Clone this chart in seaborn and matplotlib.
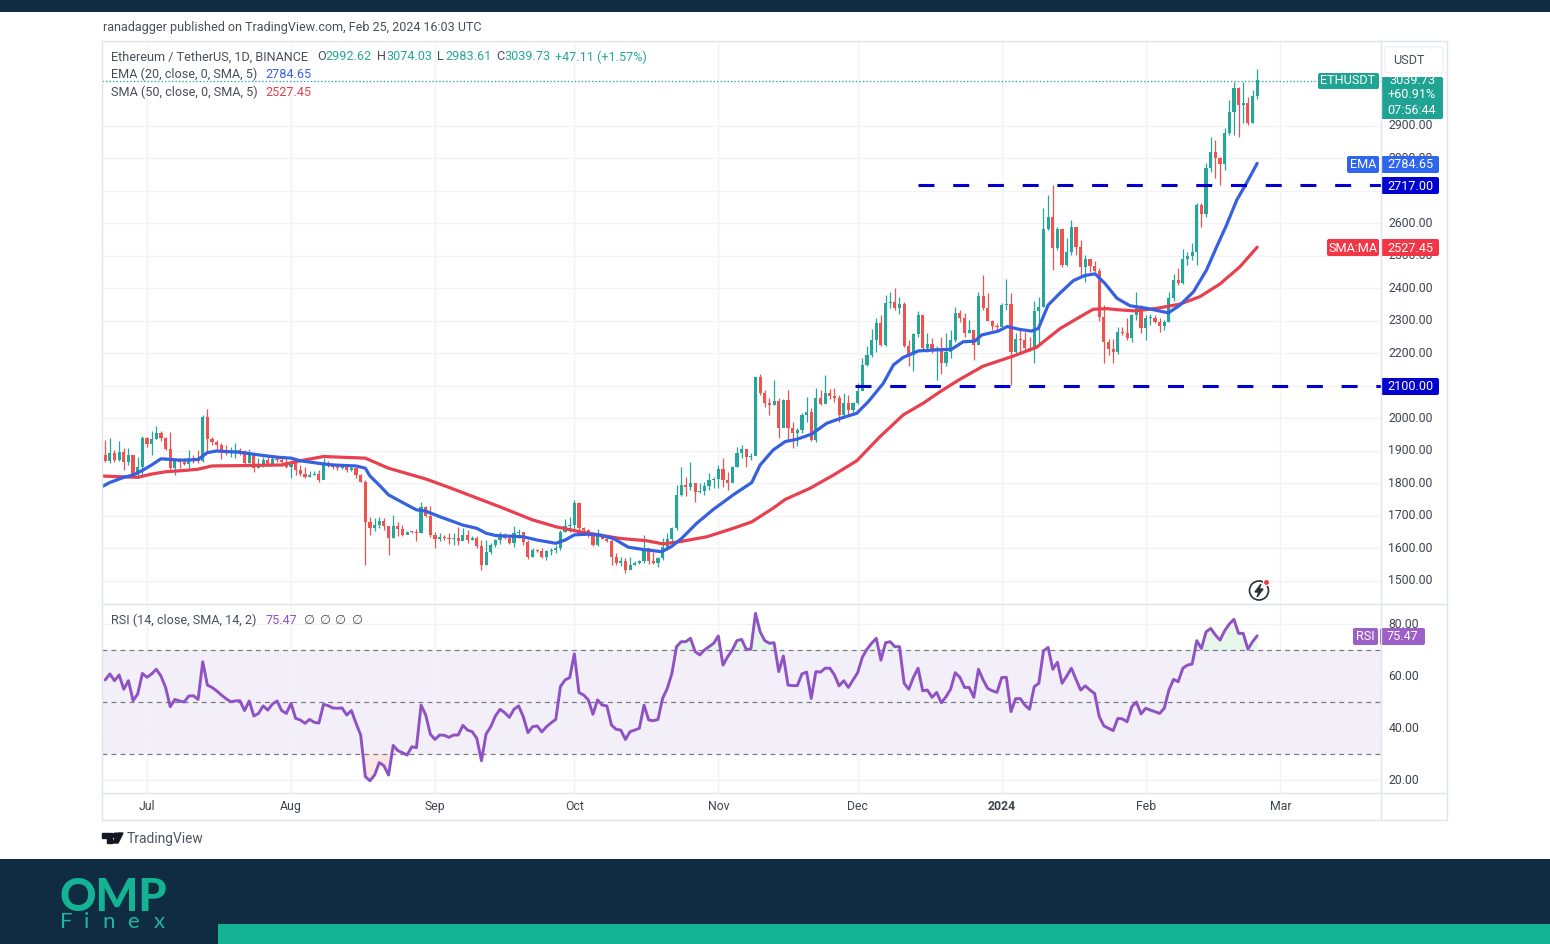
import numpy as np
import pandas as pd
import seaborn as sns
import matplotlib.pyplot as plt
from matplotlib.patches import Rectangle, FancyBboxPatch, Circle, Polygon

# days counted from 1 Jul 2023, first candle is day -9
first_day = -9
first_open = 1888
closes = [
    1869, 1893, 1872, 1898, 1867, 1888, 1826, 1852, 1939, 1922,
    1936, 1954, 1939, 1905, 1847, 1872, 1865, 1860, 1878, 1870,
    1868, 2005, 1936, 1928, 1917, 1903, 1893, 1896, 1902, 1900,
    1862, 1888, 1847, 1857, 1872, 1855, 1875, 1872, 1866, 1850,
    1867, 1842, 1830, 1821, 1826, 1830, 1811, 1857, 1855, 1850,
    1848, 1852, 1840, 1848, 1826, 1806, 1683, 1662, 1672, 1685,
    1670, 1632, 1670, 1660, 1640, 1652, 1651, 1648, 1729, 1700,
    1642, 1628, 1635, 1632, 1630, 1633, 1622, 1640, 1625, 1632,
    1608, 1550, 1590, 1610, 1625, 1640, 1632, 1617, 1647, 1650,
    1621, 1575, 1596, 1593, 1575, 1592, 1596, 1600, 1652, 1668,
    1672, 1740, 1662, 1658, 1645, 1611, 1637, 1630, 1624, 1575,
    1555, 1562, 1534, 1550, 1556, 1560, 1600, 1560, 1556, 1571,
    1606, 1630, 1662, 1765, 1795, 1790, 1802, 1775, 1778, 1792,
    1810, 1813, 1845, 1810, 1800, 1851, 1893, 1905, 1882, 1885,
    2127, 2077, 2049, 2042, 2055, 1970, 2057, 1970, 1955, 1965,
    2010, 2021, 1934, 2062, 2045, 2079, 2070, 2062, 2011, 2047,
    2025, 2049, 2085, 2165, 2195, 2243, 2293, 2226, 2354, 2358,
    2340, 2352, 2222, 2195, 2260, 2318, 2216, 2230, 2207, 2218,
    2172, 2205, 2240, 2326, 2308, 2262, 2272, 2226, 2378, 2340,
    2300, 2285, 2280, 2348, 2352, 2205, 2245, 2240, 2217, 2215,
    2330, 2344, 2582, 2619, 2524, 2582, 2472, 2513, 2590, 2528,
    2467, 2490, 2470, 2455, 2312, 2236, 2215, 2205, 2265, 2262,
    2247, 2318, 2344, 2278, 2308, 2310, 2298, 2285, 2297, 2370,
    2425, 2418, 2492, 2500, 2513, 2657, 2630, 2770, 2820, 2800,
    2783, 2877, 2944, 3016, 2965, 2971, 2908, 2992, 3040,
]
highs = [
    1934, 1939, 1903, 1932, 1908, 1908, 1888, 1880, 1946, 1944,
    1960, 1977, 1960, 1944, 1957, 1874, 1878, 1878, 1903, 1888,
    1903, 2011, 2028, 1942, 1935, 1925, 1919, 1913, 1926, 1910,
    1903, 1905, 1888, 1877, 1883, 1883, 1883, 1883, 1878, 1878,
    1872, 1872, 1857, 1852, 1838, 1838, 1842, 1878, 1868, 1862,
    1857, 1857, 1857, 1857, 1849, 1830, 1811, 1698, 1693, 1698,
    1693, 1667, 1703, 1683, 1672, 1655, 1655, 1659, 1744, 1731,
    1730, 1652, 1647, 1642, 1647, 1647, 1667, 1662, 1657, 1637,
    1637, 1626, 1626, 1616, 1628, 1652, 1648, 1640, 1669, 1660,
    1648, 1625, 1600, 1598, 1600, 1596, 1602, 1610, 1657, 1690,
    1696, 1749, 1744, 1667, 1660, 1652, 1660, 1645, 1642, 1636,
    1585, 1575, 1570, 1575, 1562, 1565, 1642, 1596, 1590, 1575,
    1631, 1647, 1667, 1795, 1852, 1821, 1867, 1802, 1802, 1806,
    1831, 1821, 1857, 1877, 1836, 1854, 1911, 1918, 1903, 1893,
    2129, 2137, 2088, 2062, 2118, 2062, 2059, 2088, 1990, 1970,
    2016, 2067, 2031, 2093, 2088, 2134, 2090, 2093, 2072, 2077,
    2072, 2052, 2108, 2185, 2222, 2275, 2310, 2318, 2380, 2390,
    2400, 2375, 2358, 2240, 2262, 2330, 2316, 2262, 2247, 2222,
    2250, 2262, 2272, 2344, 2334, 2324, 2303, 2272, 2390, 2440,
    2385, 2303, 2295, 2354, 2430, 2385, 2262, 2272, 2267, 2252,
    2360, 2373, 2647, 2688, 2717, 2590, 2580, 2555, 2612, 2590,
    2550, 2503, 2490, 2484, 2462, 2350, 2245, 2245, 2282, 2282,
    2308, 2323, 2390, 2350, 2318, 2323, 2318, 2308, 2303, 2390,
    2445, 2462, 2522, 2513, 2540, 2662, 2662, 2785, 2867, 2857,
    2805, 2893, 2980, 3036, 3021, 3036, 2990, 3011, 3074,
]
lows = [
    1867, 1862, 1867, 1868, 1840, 1857, 1821, 1816, 1826, 1913,
    1888, 1936, 1930, 1903, 1836, 1826, 1847, 1857, 1847, 1862,
    1862, 1867, 1898, 1918, 1905, 1875, 1888, 1882, 1878, 1887,
    1860, 1862, 1836, 1847, 1852, 1853, 1857, 1866, 1855, 1848,
    1816, 1826, 1823, 1816, 1820, 1825, 1806, 1826, 1850, 1846,
    1840, 1845, 1836, 1838, 1816, 1805, 1549, 1642, 1655, 1662,
    1657, 1580, 1631, 1639, 1638, 1646, 1647, 1624, 1647, 1698,
    1634, 1600, 1624, 1625, 1614, 1611, 1610, 1626, 1616, 1625,
    1600, 1534, 1549, 1584, 1605, 1615, 1630, 1615, 1604, 1632,
    1610, 1567, 1575, 1588, 1570, 1565, 1580, 1585, 1595, 1650,
    1650, 1660, 1657, 1642, 1636, 1608, 1608, 1628, 1620, 1550,
    1549, 1545, 1524, 1538, 1548, 1552, 1555, 1552, 1553, 1542,
    1565, 1595, 1620, 1658, 1760, 1762, 1780, 1744, 1772, 1765,
    1780, 1785, 1785, 1790, 1780, 1826, 1850, 1877, 1852, 1872,
    1888, 2072, 2036, 2011, 2042, 1939, 1975, 1934, 1908, 1915,
    1955, 1990, 1930, 1929, 2041, 2062, 2060, 2052, 1990, 2005,
    2010, 2020, 2045, 2100, 2160, 2190, 2205, 2222, 2222, 2340,
    2333, 2323, 2220, 2160, 2145, 2252, 2210, 2205, 2200, 2118,
    2138, 2160, 2185, 2236, 2298, 2252, 2262, 2180, 2230, 2333,
    2300, 2272, 2270, 2285, 2335, 2103, 2200, 2205, 2210, 2209,
    2170, 2222, 2344, 2580, 2458, 2518, 2465, 2470, 2503, 2502,
    2436, 2420, 2450, 2450, 2300, 2170, 2195, 2170, 2198, 2257,
    2240, 2236, 2303, 2262, 2240, 2288, 2293, 2267, 2272, 2298,
    2360, 2410, 2415, 2472, 2488, 2472, 2590, 2620, 2759, 2739,
    2718, 2765, 2872, 2872, 2867, 2908, 2903, 2908, 2983,
]
rsi_values = [
    58.5, 60.8, 58.2, 60.4, 54.9, 58.2, 50.5, 53.1, 61.0, 59.5,
    60.8, 62.6, 60.0, 55.6, 48.2, 51.0, 50.4, 50.0, 52.3, 52.4,
    51.0, 65.5, 56.5, 55.6, 54.3, 52.7, 51.3, 50.1, 50.4, 50.5,
    46.7, 50.4, 44.6, 45.6, 48.5, 46.9, 49.2, 50.4, 46.7, 45.6,
    49.5, 43.7, 43.1, 41.8, 43.3, 42.2, 41.9, 49.1, 48.6, 47.7,
    47.6, 47.7, 45.0, 46.7, 41.8, 37.3, 21.3, 19.7, 21.9, 26.7,
    25.5, 21.9, 33.3, 31.3, 30.5, 29.6, 32.8, 32.4, 48.8, 45.0,
    37.6, 35.6, 37.3, 37.2, 36.4, 37.3, 37.3, 41.0, 39.2, 38.6,
    36.0, 27.4, 37.7, 40.5, 44.6, 47.2, 45.9, 44.1, 47.2, 48.5,
    44.4, 38.2, 40.5, 40.8, 38.5, 40.5, 42.0, 43.3, 55.9, 58.5,
    59.4, 68.5, 53.6, 52.7, 50.8, 45.3, 50.8, 48.8, 48.5, 41.1,
    39.5, 39.2, 35.6, 38.6, 39.2, 39.9, 48.8, 43.1, 42.8, 43.3,
    51.4, 55.2, 61.0, 71.3, 73.2, 73.2, 74.5, 69.4, 68.1, 70.0,
    71.3, 72.6, 75.4, 64.2, 67.4, 70.0, 73.6, 74.1, 70.3, 70.3,
    84.1, 77.0, 73.6, 72.6, 72.8, 61.7, 67.7, 56.5, 56.3, 56.3,
    60.8, 61.5, 51.4, 61.7, 61.5, 63.0, 63.0, 60.4, 56.2, 58.2,
    55.6, 58.5, 61.3, 67.2, 70.3, 72.6, 74.5, 66.1, 72.8, 73.2,
    71.3, 71.3, 57.2, 54.9, 59.5, 63.0, 54.3, 54.6, 51.8, 53.7,
    49.7, 52.0, 54.9, 61.3, 59.5, 55.6, 55.6, 51.8, 62.6, 58.5,
    55.2, 54.3, 53.7, 59.4, 59.5, 46.3, 51.3, 51.3, 48.8, 47.2,
    55.9, 57.2, 69.7, 71.0, 62.6, 65.3, 57.2, 60.0, 63.0, 58.7,
    54.6, 56.2, 54.6, 53.3, 44.4, 40.8, 39.9, 39.0, 43.7, 43.5,
    42.4, 48.2, 50.0, 45.4, 47.6, 46.9, 46.3, 45.6, 47.6, 54.6,
    58.7, 57.8, 63.0, 64.2, 64.6, 73.6, 70.6, 77.0, 78.3, 75.8,
    73.8, 77.4, 80.0, 81.8, 76.4, 76.4, 70.3, 73.2, 75.47,
]
ema_days = [-10, -8, -5, -3, -1, 1, 3, 5, 7, 9, 11, 13, 15, 20, 24, 28, 31, 33, 37, 40, 45, 47, 48, 50, 52, 56, 58,
            60, 63, 68, 71, 73, 75, 81, 84, 88, 90, 92, 95, 97.5, 100.4, 103.6, 106.8, 110.8, 112.9, 115.1, 118.3,
            121.9, 126.2, 130.2, 132, 134.8, 137.4, 139.9, 143.1, 146.3, 149.2, 152.8, 155.3, 158.5, 160.7, 162.8,
            166.1, 170, 173.2, 175.7, 178.2, 179.7, 183.3, 185.2, 187.9, 190.4, 191.9, 194, 196.5, 199.4, 201.9,
            204.1, 206.2, 208.8, 211.6, 215.2, 219.9, 222.4, 225.3, 228.1, 230.3, 232.4, 234.6, 236.7, 239]
ema_values = [1788, 1803, 1819, 1826, 1840, 1857, 1876, 1874, 1872, 1872, 1874, 1895, 1900, 1896, 1888, 1881, 1878,
              1870, 1862, 1857, 1854, 1847, 1823, 1795, 1765, 1734, 1719, 1715, 1698, 1672, 1662, 1647, 1640, 1636,
              1626, 1616, 1626, 1642, 1644, 1641, 1631, 1604, 1597, 1590, 1606, 1631, 1677, 1720, 1765, 1803, 1857,
              1903, 1929, 1936, 1952, 1985, 2000, 2016, 2052, 2108, 2165, 2188, 2208, 2211, 2213, 2236, 2238, 2257,
              2269, 2283, 2274, 2269, 2277, 2349, 2385, 2424, 2440, 2445, 2416, 2370, 2347, 2339, 2325, 2349, 2390,
              2457, 2529, 2595, 2672, 2724, 2785]
sma_days = [-10, -6, -2, 1, 4, 8, 11, 14, 20, 29, 33, 38, 47, 52, 60, 65, 76, 83, 88, 93, 101.8, 107.5, 111.1, 114.7,
            120.5, 126.2, 130.2, 134.8, 137.4, 142.7, 147.8, 152.8, 157.8, 162.8, 167.1, 170.7, 174.7, 180, 186.5,
            191.5, 196.6, 200.9, 203.7, 206.6, 209.5, 212.7, 217.4, 222.4, 226.7, 231, 235.3, 239]
sma_values = [1823, 1821, 1819, 1829, 1836, 1840, 1844, 1854, 1855, 1857, 1870, 1883, 1878, 1847, 1814, 1788, 1728,
              1688, 1667, 1652, 1631, 1624, 1614, 1621, 1636, 1662, 1682, 1724, 1751, 1785, 1826, 1870, 1944, 2011,
              2047, 2082, 2118, 2161, 2192, 2219, 2277, 2313, 2336, 2338, 2334, 2331, 2339, 2352, 2375, 2414, 2467,
              2527]
price_ticks = [p for p in range(1500, 3000, 100)]
rsi_ticks = [20, 40, 60, 80]
rsi_levels = [70, 50, 30]
month_days = [0, 31, 62, 92, 123, 153, 184, 215, 244]
month_labels = ["Jul", "Aug", "Sep", "Oct", "Nov", "Dec", "2024", "Feb", "Mar"]
support_level = 2100
resistance_level = 2717
last_price = 3039.73

TEAL = "#26a69a"
RED = "#ef5350"
BLUE = "#3561e0"
SMA_RED = "#e8404f"
PURPLE = "#8f52c4"
LINE_BLUE = "#0000d0"
GRID = "#f2f3f7"
BORDER = "#e0e3eb"
DARK = "#0f2c42"
BRAND = "#14b394"
TXT = "#4a4e5a"

sns.set_theme(style="white")
plt.rcParams["font.family"] = ["Roboto", "DejaVu Sans"]
plt.rcParams["lines.scale_dashes"] = False

W, H = 1550, 944
fig = plt.figure(figsize=(15.5, 9.44), dpi=100, facecolor="white")


def pane(left, top, right, bottom):
    return fig.add_axes([left / W, 1 - bottom / H, (right - left) / W, (bottom - top) / H])


days = np.arange(first_day, first_day + len(closes))
opens = [first_open] + closes[:-1]
df = pd.DataFrame({"day": days, "open": opens, "high": highs, "low": lows, "close": closes, "rsi": rsi_values})
df["color"] = np.where(df["close"] >= df["open"], TEAL, RED)

ax = pane(102, 41, 1381, 604)
ax.vlines(df["day"], df["low"], df["high"], colors=df["color"], linewidth=0.9, zorder=2)
ax.bar(df["day"], (df["close"] - df["open"]).abs().clip(lower=3), bottom=df[["open", "close"]].min(axis=1),
       width=0.68, color=df["color"], linewidth=0, zorder=3)
sns.lineplot(x=sma_days, y=sma_values, ax=ax, color=SMA_RED, linewidth=2.3, zorder=4, errorbar=None)
sns.lineplot(x=ema_days, y=ema_values, ax=ax, color=BLUE, linewidth=2.3, zorder=5, errorbar=None)
ax.axhline(last_price, color=TEAL, linewidth=0.9, linestyle=(0, (1, 1.5)), zorder=1)
ax.hlines(resistance_level, 166, 266, color=LINE_BLUE, linewidth=2.2, linestyle=(0, (11.5, 13.5)), zorder=6)
ax.hlines(support_level, 152.4, 266, color=LINE_BLUE, linewidth=2.2, linestyle=(0, (11.5, 13.5)), zorder=6)
ax.set_xlim(-9.69, 265.66)
ax.set_ylim(1429.2, 3161.5)
ax.set_yticks(price_ticks)
ax.set_yticklabels([f"{p:.2f}" for p in price_ticks])
ax.set_xticks(month_days)
ax.set_xticklabels([])
ax.yaxis.tick_right()

rsi_ax = pane(102, 604, 1381, 793)
rsi_ax.axhspan(30, 70, color="#7e57c2", alpha=0.09, linewidth=0, zorder=0)
rsi_arr = df["rsi"].to_numpy()
rsi_ax.fill_between(days, 70, rsi_arr, where=rsi_arr >= 70, color="#b9e6c5", alpha=0.35, linewidth=0, interpolate=True)
rsi_ax.fill_between(days, 30, rsi_arr, where=rsi_arr <= 30, color="#f8c9c4", alpha=0.45, linewidth=0, interpolate=True)
for level in rsi_levels:
    rsi_ax.axhline(level, color="#787b86", linewidth=0.9, linestyle=(0, (3.5, 3)), zorder=1)
sns.lineplot(data=df, x="day", y="rsi", ax=rsi_ax, color=PURPLE, linewidth=2.1, zorder=4, errorbar=None)
rsi_ax.set_xlim(-9.69, 265.66)
rsi_ax.set_ylim(15, 87.7)
rsi_ax.set_yticks(rsi_ticks)
rsi_ax.set_yticklabels([f"{v:.2f}" for v in rsi_ticks])
rsi_ax.set_xticks(month_days)
rsi_ax.set_xticklabels(month_labels)
rsi_ax.yaxis.tick_right()

for a in (ax, rsi_ax):
    a.set_xlabel("")
    a.set_ylabel("")
    a.grid(True, color=GRID, linewidth=1.0)
    a.set_axisbelow(True)
    a.tick_params(axis="y", length=0, pad=5.2, labelsize=8.8, labelcolor="#3f4350")
    a.tick_params(axis="x", length=0, pad=4.8, labelsize=8.8, labelcolor="#3f4350")
    for t in a.get_yticklabels():
        t.set_verticalalignment("center")
    for s in a.spines.values():
        s.set_visible(False)
rsi_ax.get_xticklabels()[6].set_fontweight("bold")

# everything around the panes, in image pixels
over = fig.add_axes([0, 0, 1, 1], facecolor="none")
over.set_xlim(0, W)
over.set_ylim(H, 0)
over.axis("off")


def rect(x0, y0, x1, y1, color, **kw):
    over.add_patch(Rectangle((x0, y0), x1 - x0, y1 - y0, facecolor=color, edgecolor="none", **kw))


def box(x0, y0, x1, y1, color, edge="none"):
    over.add_patch(FancyBboxPatch((x0, y0), x1 - x0, y1 - y0, boxstyle="round,pad=0,rounding_size=2",
                                  facecolor=color, edgecolor=edge, linewidth=0.8))


def label(x, y, s, color=TXT, size=9.05, ha="left", **kw):
    over.text(x, y, s, color=color, fontsize=size, ha=ha, va="center", **kw)


rect(0, 0, W, 12, DARK)
rect(0, 859, W, H, DARK)
rect(218, 924, W, H, BRAND)

for x0, y0, x1, y1 in [(102, 41, 1447, 41), (102, 820, 1447, 820), (102, 41, 102, 820), (1447, 41, 1447, 820),
                       (1381, 41, 1381, 820), (102, 604, 1447, 604), (102, 793, 1447, 793)]:
    over.plot([x0, x1], [y0, y1], color=BORDER, linewidth=1.0)

label(103, 28, "ranadagger published on TradingView.com, Feb 25, 2024 16:03 UTC", size=9.0)
label(111, 57, "Ethereum / TetherUS, 1D, BINANCE")
for x, s, c in [(317, "O", TXT), (325, "2992.62", TEAL), (377, "H", TXT), (386, "3074.03", TEAL), (437, "L", TXT),
                (445, "2983.61", TEAL), (496, "C", TXT), (504, "3039.73", TEAL), (555, "+47.11 (+1.57%)", TEAL)]:
    label(x, 57, s, color=c)
label(111, 74, "EMA (20, close, 0, SMA, 5)")
label(265, 74, "2784.65", color=BLUE)
label(111, 92, "SMA (50, close, 0, SMA, 5)")
label(265, 92, "2527.45", color=SMA_RED)
label(111, 620, "RSI (14, close, SMA, 14, 2)")
label(266, 620, "75.47", color=PURPLE)
for x in [309, 325, 340, 357]:
    label(x, 620, "∅", ha="center")

box(1385, 47, 1443, 73, "white", edge="#eceef3")
label(1409, 60, "USDT", ha="center")
box(1318, 73, 1379, 89, "#1fa392")
label(1348, 81, "ETHUSDT", color="white", ha="center")
box(1381, 77, 1443, 119, "#1fa392")
label(1412, 81, "3039.73", color="white", ha="center")
label(1412, 95, "+60.91%", color="white", ha="center")
label(1412, 110, "07:56:44", color="white", ha="center")
box(1347, 156, 1379, 173, "#2f66f0")
label(1363, 165, "EMA", color="white", ha="center")
box(1381, 156, 1439, 173, "#2f66f0")
label(1410, 165, "2784.65", color="white", ha="center")
box(1381, 177, 1439, 194, LINE_BLUE)
label(1410, 186, "2717.00", color="white", ha="center")
box(1327, 239, 1379, 256, "#f23645")
label(1353, 248, "SMA:MA", color="white", ha="center")
box(1381, 239, 1439, 256, "#f23645")
label(1410, 248, "2527.45", color="white", ha="center")
box(1381, 378, 1439, 395, LINE_BLUE)
label(1410, 387, "2100.00", color="white", ha="center")
box(1353, 628, 1378, 645, "#9c5fc7")
label(1365.5, 637, "RSI", color="white", ha="center")
box(1380, 628, 1425, 645, "#9c5fc7")
label(1402.5, 637, "75.47", color="white", ha="center")

# snapshot icon
over.add_patch(Circle((1259, 590.5), 9.5, facecolor="white", edgecolor="#2a2e39", linewidth=1.2))
over.add_patch(Polygon([(1261, 584), (1255, 592), (1259, 592), (1257, 597), (1263, 589), (1259, 589)], color="#2a2e39"))
over.add_patch(Circle((1266.5, 582.5), 3, facecolor="#f23645", edgecolor="white", linewidth=0.8))

# TradingView mark
over.add_patch(Polygon([(102, 833), (112, 833), (112, 843), (107, 843), (107, 838), (102, 838)], color="#131722"))
over.add_patch(Circle((115.5, 835.5), 2.4, color="#131722"))
over.add_patch(Polygon([(118, 833), (123, 833), (118, 843), (112.5, 843)], color="#131722"))
label(127, 838.5, "TradingView", color="#50535e", size=9.9)

# OMP Finex logo
over.text(113, 898, "OMP", color=BRAND, fontsize=32.5, fontweight="black", family="Lato", ha="center", va="center")
for x, s in [(66, "F"), (86, "i"), (109, "n"), (133, "e"), (159, "x")]:
    over.text(x, 922, s, color="#1fb79a", fontsize=16, fontweight="normal", family="Lato", ha="center", va="center")

fig.savefig("out.png", dpi=100)
